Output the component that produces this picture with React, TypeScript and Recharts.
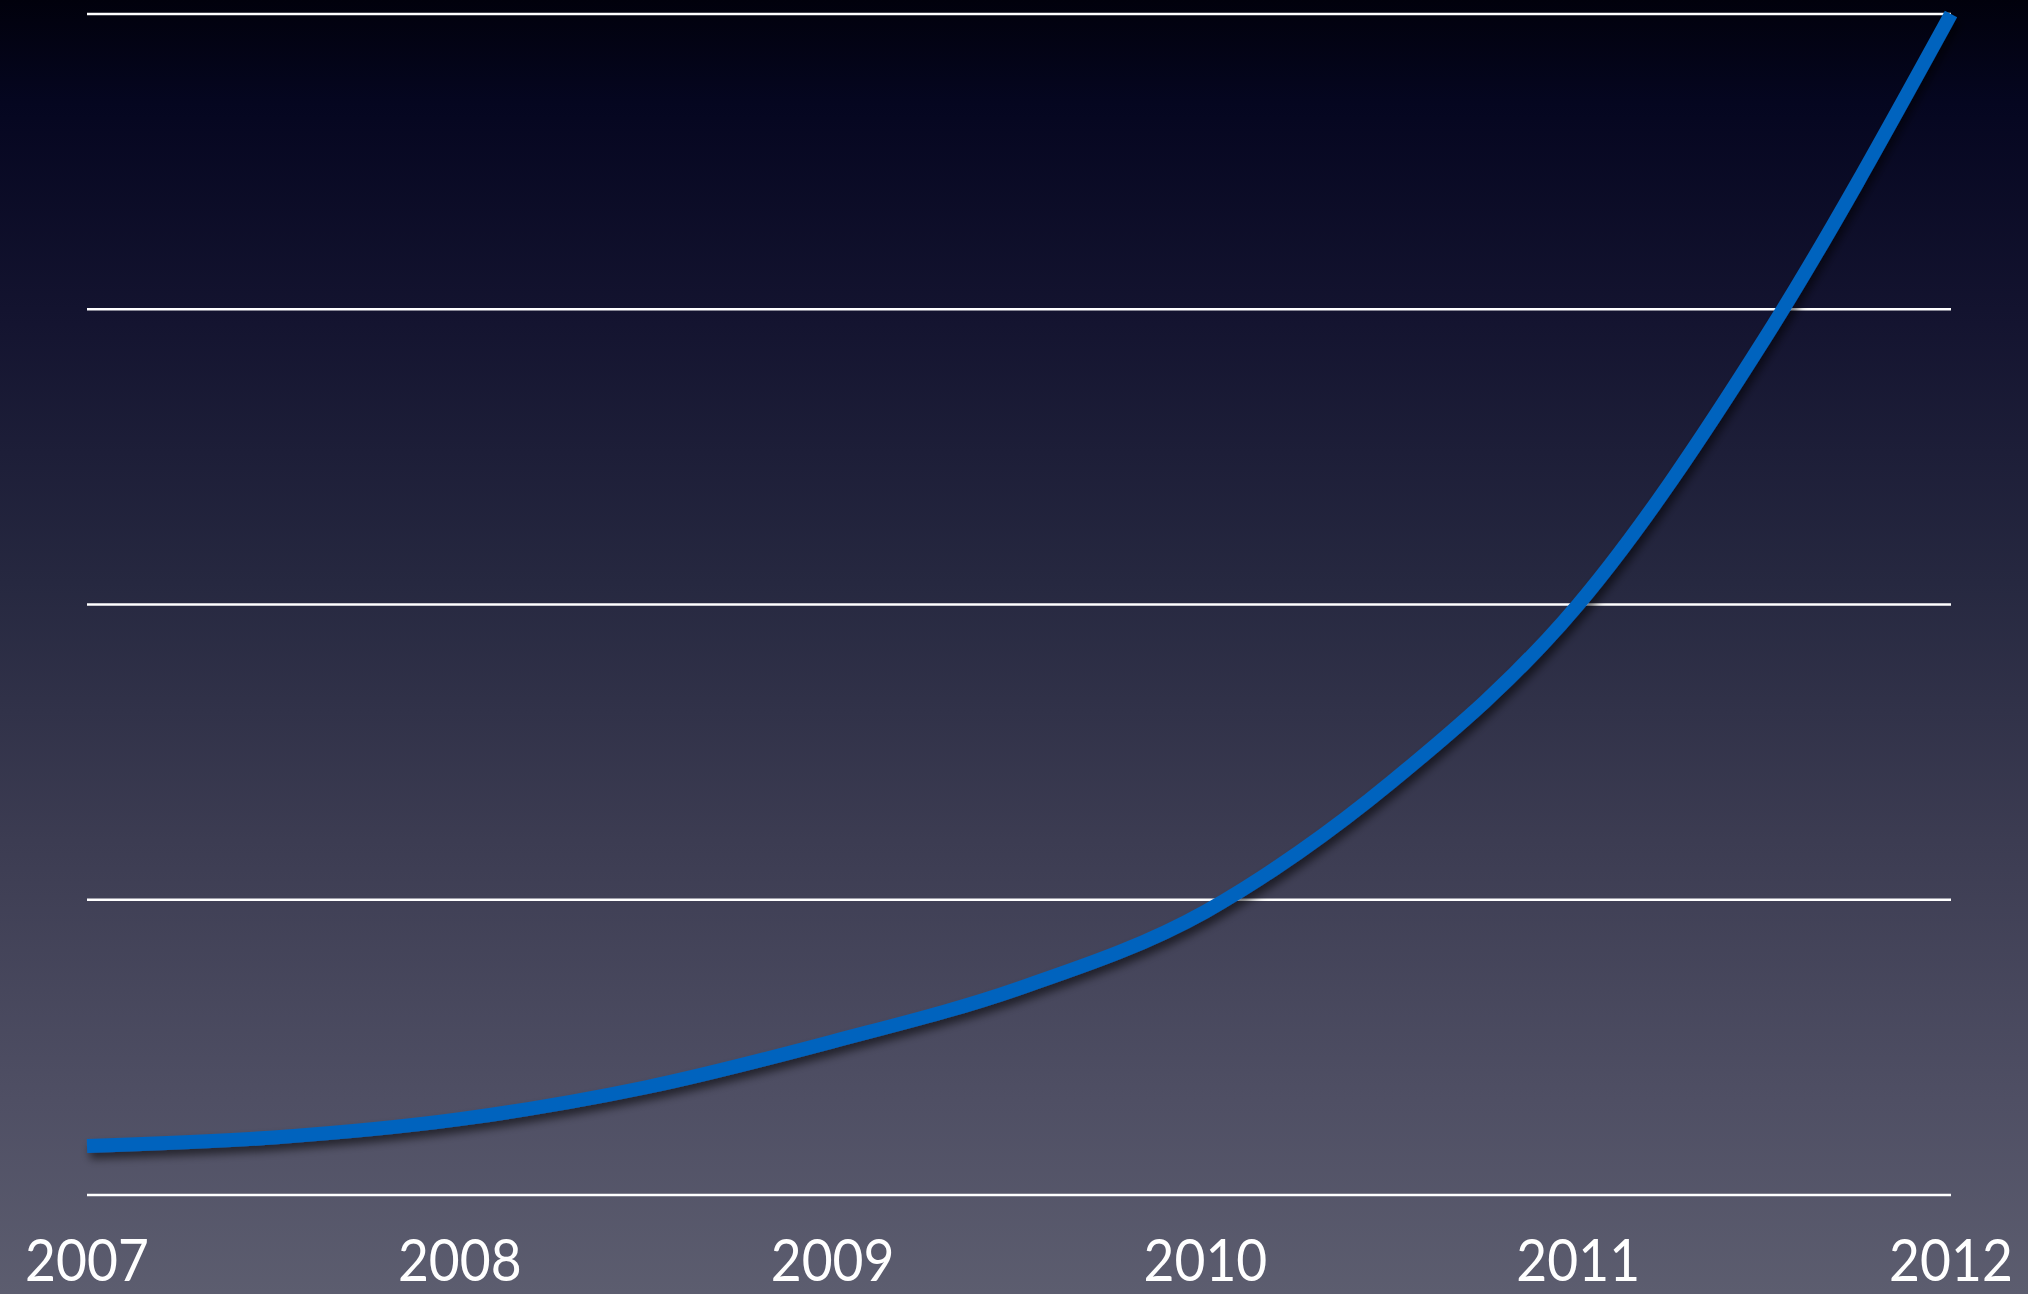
import React from "react";
import { LineChart, Line, XAxis, YAxis, CartesianGrid } from "recharts";

// years along the bottom (gridline units)
const yearTicks = [2007, 2008, 2009, 2010, 2011, 2012];
const years = [2007, 2007.5, 2008, 2008.5, 2009, 2009.5, 2010, 2010.25, 2010.5, 2011, 2011.5, 2012];
const values = [0.166, 0.195, 0.257, 0.365, 0.52, 0.7, 0.96, 1.16, 1.4, 2.0, 2.9, 4.0];
const gridTicks = [0, 1, 2, 3, 4];

const W = 2028;
const H = 1294;

const chartData = years.map((yr, i) => ({ year: yr, v: values[i] }));

function YearTick(props: any) {
  const { x, y, payload } = props;
  return (
    <g transform={`translate(${x},${y})`}>
      <text
        x={0}
        y={0}
        dy={86}
        textAnchor="middle"
        fill="#ffffff"
        fontFamily="Lato, 'Open Sans', sans-serif"
        fontSize={58}
        transform="scale(0.92,1)"
      >
        {payload.value}
      </text>
    </g>
  );
}

export default function App() {
  return (
    <div
      style={{
        position: "absolute",
        left: 0,
        top: 0,
        width: W,
        height: H,
        overflow: "hidden",
        background:
          "linear-gradient(to bottom, #01010c 0%, #050620 8%, #141430 25%, #262840 45%, #3c3c52 65%, #4f4f64 85%, #5c5d6f 100%)",
      }}
    >
      <LineChart width={W} height={H} data={chartData} margin={{ top: 14, right: 77, bottom: 0, left: 87 }}>
        <defs>
          <filter id="lineShadow" x="-10%" y="-10%" width="120%" height="120%">
            <feDropShadow dx={3} dy={6} stdDeviation={4} floodColor="#000000" floodOpacity={0.55} />
          </filter>
        </defs>
        <CartesianGrid vertical={false} stroke="#ffffff" strokeWidth={2.5} />
        <XAxis
          dataKey="year"
          type="number"
          domain={[2007, 2012]}
          ticks={yearTicks}
          axisLine={false}
          tickLine={false}
          tickSize={0}
          tickMargin={0}
          height={99}
          tick={<YearTick />}
          interval={0}
        />
        <YAxis hide domain={[0, 4]} ticks={gridTicks} />
        <Line
          type="monotone"
          dataKey="v"
          stroke="#0063be"
          strokeWidth={14}
          dot={false}
          activeDot={false}
          filter="url(#lineShadow)"
          isAnimationActive={false}
        />
      </LineChart>
    </div>
  );
}
